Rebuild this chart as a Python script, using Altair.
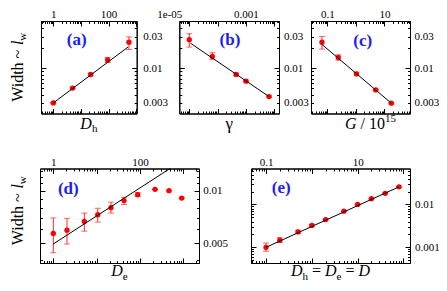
import altair as alt
import pandas as pd

# ---------------- data ----------------
# (a) width vs D_h
a_x = [1, 5, 22.6, 93, 550]
a_y = [0.0030, 0.00503, 0.00804, 0.0133, 0.0246]
a_lo = [0.00295, 0.0049, 0.0077, 0.0122, 0.0191]
a_hi = [0.00305, 0.0052, 0.0084, 0.0145, 0.0297]
a_fx = [1, 509]
a_fy = [0.0030, 0.0208]

# (b) width vs gamma
b_x = [1e-05, 6.5e-05, 4.5e-04, 1.0e-03, 6.5e-03]
b_y = [0.0269, 0.01503, 0.00805, 0.00639, 0.00374]
b_lo = [0.0208, 0.01348, 0.0077, 0.0062, 0.00365]
b_hi = [0.0331, 0.01712, 0.0084, 0.0066, 0.00383]
b_fx = [1.1e-05, 6.5e-03]
b_fy = [0.0238, 0.00374]

# (c) width vs G / 1e15
c_x = [0.065, 0.242, 1.05, 4.97, 17.5]
c_y = [0.0246, 0.01456, 0.00824, 0.00471, 0.00297]
c_lo = [0.0194, 0.0132, 0.0077, 0.0046, 0.0029]
c_hi = [0.0300, 0.0159, 0.0087, 0.0048, 0.00304]
c_fx = [0.065, 17.5]
c_fy = [0.0228, 0.00297]

# (d) width vs D_e
d_x = [1, 2.07, 5.2, 10.6, 21.4, 42.8, 88.5, 222, 467, 916]
d_y = [0.00568, 0.00593, 0.00665, 0.00727, 0.00798, 0.00877, 0.00947, 0.01017, 0.0100, 0.00906]
d_lo = [0.0044, 0.00494, 0.00585, 0.00659, 0.00743, 0.00833, 0.00926, 0.01017, 0.0100, 0.00906]
d_hi = [0.00697, 0.00693, 0.00743, 0.00792, 0.00858, 0.00915, 0.00975, 0.01017, 0.0100, 0.00906]
d_fx = [1, 492]
d_fy = [0.00494, 0.0134]

# (e) width vs D_h = D_e = D
e_x = [0.1, 0.2, 0.5, 1, 2, 5, 10, 20, 40, 80]
e_y = [0.0010, 0.00147, 0.00229, 0.00325, 0.00443, 0.00696, 0.0100, 0.01365, 0.01825, 0.0258]
e_lo = [0.00081, 0.0013, 0.0021, 0.0031, 0.0043, 0.0068, 0.0098, 0.0134, 0.0179, 0.0253]
e_hi = [0.00126, 0.00168, 0.0025, 0.0034, 0.00455, 0.0071, 0.0102, 0.0139, 0.0186, 0.0263]
e_fx = [0.1, 80]
e_fy = [0.0010, 0.0258]

# tick labels
a_xlab = [1, 100];            a_xtxt = ["1", "100"]
b_xlab = [1e-05, 0.001];      b_xtxt = ["1e-05", "0.001"]
c_xlab = [0.1, 10];           c_xtxt = ["0.1", "10"]
d_xlab = [1, 100];            d_xtxt = ["1", "100"]
e_xlab = [0.1, 10];           e_xtxt = ["0.1", "10"]
top_ylab = [0.003, 0.01, 0.03]; top_ytxt = ["0.003", "0.01", "0.03"]
d_ylab = [0.005, 0.01];       d_ytxt = ["0.005", "0.01"]
e_ylab = [0.001, 0.01];       e_ytxt = ["0.001", "0.01"]

# ---------------- layout / style ----------------
W_CH, H_CH = 431, 275
FONT = "'Liberation Serif', 'Times New Roman', Times, serif"
RED = "#ff0000"
ERR = "#ff2a2a"
BLUE = "#1a1aff"

GEOM = {  # page pixels: left, right, top, bottom of each plot frame
    "a": (41.0, 136.7, 21.0, 113.5),
    "b": (179.3, 279.0, 21.0, 113.5),
    "c": (311.0, 410.0, 21.0, 113.5),
    "d": (40.0, 199.0, 168.5, 263.0),
    "e": (251.0, 410.0, 168.5, 263.0),
}


def geom(k):
    l, r, t, b = GEOM[k]
    return l - 8, r - 8, t - 8, b - 8


def log_ticks(lo, hi):
    vals, majors = [], []
    for k in range(-8, 8):
        for m in range(1, 10):
            v = float(f"{m}e{k}")
            if lo <= v <= hi:
                if m == 1:
                    majors.append(v)
                else:
                    vals.append(v)
    return majors, vals


def label_expr(vals, txts):
    e = "''"
    for v, t in reversed(list(zip(vals, txts))):
        e = f"abs(datum.value - {v!r}) < {abs(v) * 1e-6!r} ? '{t}' : ({e})"
    return e


def tick_axis(orient, offset, vals, size):
    return alt.Axis(orient=orient, offset=offset, values=vals, labels=False, ticks=True,
                    domain=True, grid=False, title=None, tickSize=size, tickColor="black",
                    tickWidth=1, domainColor="black", domainWidth=1)


def label_axis(orient, offset, vals, txts, pad, loff=None):
    kw = dict(orient=orient, offset=offset, values=vals, labels=True, ticks=False,
              domain=False, grid=False, title=None, labelExpr=label_expr(vals, txts),
              labelFont=FONT, labelFontSize=11, labelColor="black", labelPadding=pad,
              labelFlush=False, labelOverlap=False)
    if loff is not None:
        kw["labelOffset"] = loff
    return alt.Axis(**kw)


def panel(k, xs, ys, lo, hi, fx, fy, xdom, ydom, xlab, xtxt, ylab, ytxt,
          ymaj=None, ymin=None, loff=None, ypad=4.5):
    x0, x1, yt, yb = geom(k)
    xs_ = alt.Scale(type="log", domain=xdom, range=[x0, x1], nice=False)
    ys_ = alt.Scale(type="log", domain=ydom, range=[yb, yt], nice=False)
    xmaj, xmin = log_ticks(*xdom)
    if ymaj is None:
        ymaj, ymin = log_ticks(*ydom)
    pts = pd.DataFrame({"x": xs, "y": ys, "lo": lo, "hi": hi})
    fit = pd.DataFrame({"x": fx, "y": fy})
    MAJ, MIN = 5, 2.5
    rule = alt.Chart(pts).mark_rule(color=ERR, strokeWidth=1).encode(
        x=alt.X("x:Q", scale=xs_, axis=tick_axis("top", -yb, xmaj, MAJ)),
        y=alt.Y("lo:Q", scale=ys_, axis=tick_axis("right", x0 - W_CH, ymaj, MAJ)),
        y2="hi:Q")
    cap_lo = alt.Chart(pts).mark_tick(orient="horizontal", color=ERR, size=6, thickness=1).encode(
        x=alt.X("x:Q", scale=xs_, axis=tick_axis("top", -yb, xmin, MIN)),
        y=alt.Y("lo:Q", scale=ys_, axis=tick_axis("right", x0 - W_CH, ymin, MIN)))
    cap_hi = alt.Chart(pts).mark_tick(orient="horizontal", color=ERR, size=6, thickness=1).encode(
        x=alt.X("x:Q", scale=xs_, axis=tick_axis("bottom", yt - H_CH, xmin, MIN)),
        y=alt.Y("hi:Q", scale=ys_, axis=tick_axis("left", -x1, ymin, MIN)))
    points = alt.Chart(pts).mark_point(filled=True, shape="circle", size=28, color=RED, opacity=1).encode(
        x=alt.X("x:Q", scale=xs_, axis=label_axis("top", -yt, xlab, xtxt, 1.5, loff)),
        y=alt.Y("y:Q", scale=ys_, axis=label_axis("right", x1 - W_CH, ylab, ytxt, ypad)))
    line = alt.Chart(fit).mark_line(color="black", strokeWidth=1).encode(
        x=alt.X("x:Q", scale=xs_, axis=tick_axis("bottom", yt - H_CH, xmaj, MAJ)),
        y=alt.Y("y:Q", scale=ys_, axis=tick_axis("left", -x1, ymaj, MAJ)))
    return [rule, cap_lo, cap_hi, points, line]


# ---------------- text helpers ----------------
EM = {"D": 0.722, "h": 0.5, "e": 0.444, " ": 0.25, "=": 0.564, "G": 0.722, "/": 0.278,
      "1": 0.5, "0": 0.5, "5": 0.5, "W": 0.944, "i": 0.278, "d": 0.5, "t": 0.278,
      "~": 0.541, "l": 0.278, "w": 0.722, "γ": 0.44, "(": 0.333, ")": 0.333}


def tw(s, size):
    return sum(EM.get(c, 0.5) for c in s) * size


def text_layer(txt, x, y, size, color="black", style="normal", weight="normal",
               angle=0, align="left", baseline="alphabetic"):
    df = pd.DataFrame({"t": [txt]})
    mk = dict(font=FONT, fontSize=size, color=color, fontStyle=style, fontWeight=weight,
              align=align, baseline=baseline)
    if angle:
        mk["angle"] = angle
    return alt.Chart(df).mark_text(**mk).encode(text="t:N", x=alt.value(x), y=alt.value(y))


def htitle(pieces, cx, base):
    total = sum(tw(t, s) for t, s, _, _ in pieces)
    x = cx - total / 2
    out = []
    for t, s, st, dy in pieces:
        if t.strip():
            out.append(text_layer(t.strip(), x + tw(t[:len(t) - len(t.lstrip())], s), base + dy, s, style=st))
        x += tw(t, s)
    return out


def vtitle(pieces, bx, cy):
    total = sum(tw(t, s) for t, s, _, _ in pieces)
    y = cy + total / 2
    out = []
    for t, s, st, dy in pieces:
        if t.strip():
            out.append(text_layer(t.strip(), bx + dy, y, s, style=st, angle=270))
        y -= tw(t, s)
    return out


def plabel(k, txt, dx, dy):
    x0, x1, yt, yb = geom(k)
    return text_layer(txt, x0 + dx, yt + dy, 17, color=BLUE, weight="bold",
                      align="center", baseline="middle")


TOPY = [0.00208, 0.0514]
layers = []
layers += panel("a", a_x, a_y, a_lo, a_hi, a_fx, a_fy, [0.358, 1050], TOPY,
                a_xlab, a_xtxt, top_ylab, top_ytxt, ypad=6)
layers += panel("b", b_x, b_y, b_lo, b_hi, b_fx, b_fy, [4.44e-06, 0.01459], TOPY,
                b_xlab, b_xtxt, top_ylab, top_ytxt,
                loff={"condition": {"test": "datum.value < 0.0001", "value": -20}, "value": 0})
layers += panel("c", c_x, c_y, c_lo, c_hi, c_fx, c_fy, [0.0268, 78.9], TOPY,
                c_xlab, c_xtxt, top_ylab, top_ytxt, ypad=4)
layers += panel("d", d_x, d_y, d_lo, d_hi, d_fx, d_fy, [0.493, 2296], [0.00384, 0.0134],
                d_xlab, d_xtxt, d_ylab, d_ytxt,
                ymaj=[0.005, 0.01], ymin=[0.004, 0.006, 0.007, 0.008, 0.009, 0.011, 0.012, 0.013],
                ypad=3.7)
layers += panel("e", e_x, e_y, e_lo, e_hi, e_fx, e_fy, [0.047, 139], [0.00043, 0.0692],
                e_xlab, e_xtxt, e_ylab, e_ytxt, ypad=4.5)

# panel letters
layers += [plabel("a", "(a)", 35.7, 19.0), plabel("b", "(b)", 50.7, 18.5),
           plabel("c", "(c)", 51.7, 19.5), plabel("d", "(d)", 28.3, 20.0),
           plabel("e", "(e)", 30.3, 19.5)]


# axis titles
def cx(k):
    x0, x1, _, _ = geom(k)
    return (x0 + x1) / 2


TOPBASE = geom("a")[3] + 15
BOTBASE = geom("d")[3] + 13
layers += htitle([("D", 16, "italic", 0), ("h", 11, "normal", 3.5)], cx("a"), TOPBASE)
layers += htitle([("γ", 17, "normal", 0)], cx("b"), TOPBASE)
layers += htitle([("G", 16, "italic", 0), (" / 10", 16, "normal", 0), ("15", 11, "normal", -6.5)],
                 cx("c") + 10, TOPBASE)
layers += htitle([("D", 16, "italic", 0), ("e", 11, "normal", 3.5)], cx("d"), BOTBASE)
layers += htitle([("D", 16, "italic", 0), ("h", 11, "normal", 3.5), (" = ", 16, "normal", 0),
                  ("D", 16, "italic", 0), ("e", 11, "normal", 3.5), (" = ", 16, "normal", 0),
                  ("D", 16, "italic", 0)], cx("e"), BOTBASE)

ytitle = [("Width ~ ", 16, "normal", 0), ("l", 16, "italic", 0), ("w", 11, "normal", 3.5)]
layers += vtitle(ytitle, 14.5, (geom("a")[2] + geom("a")[3]) / 2)
layers += vtitle(ytitle, 14.5, (geom("d")[2] + geom("d")[3]) / 2 - 5)

chart = alt.layer(*layers).resolve_scale(x="independent", y="independent").resolve_axis(
    x="independent", y="independent").properties(
    width=W_CH, height=H_CH, padding=0, autosize=alt.AutoSizeParams(type="none"),
    background="white").configure_view(strokeWidth=0)

chart.save("out.html", embed_options={"renderer": "svg", "actions": False})
